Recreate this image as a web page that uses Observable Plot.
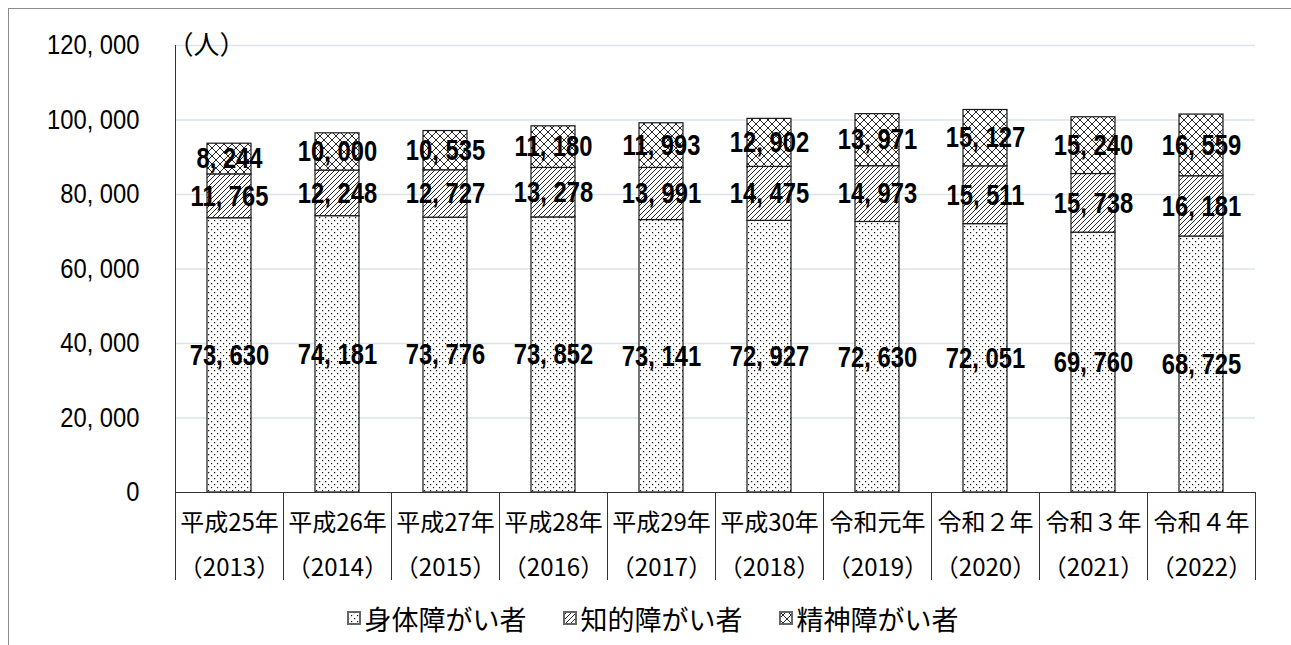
<!DOCTYPE html>
<html><head><meta charset="utf-8">
<script src="https://cdn.jsdelivr.net/npm/d3@7"></script>
<script src="https://cdn.jsdelivr.net/npm/@observablehq/plot@0.6"></script>
<style>
body{margin:0;background:#fff;width:1291px;height:645px;overflow:hidden;position:relative;font-family:"Noto Sans CJK JP",sans-serif;}
#frame{position:absolute;left:8px;top:8px;right:0;bottom:0;border-top:1px solid #8c8c8c;border-left:1px solid #8c8c8c;pointer-events:none;}
#chart svg{display:block}
#legend{position:absolute;left:0;top:590px;width:1291px;height:56px;display:flex;justify-content:center;align-items:center;gap:36px;font-size:27px;line-height:1;color:#000;padding-left:14px;box-sizing:border-box}
.item{display:flex;align-items:center;gap:4px}
.item svg{display:block}
</style></head><body>
<div id="chart"></div><div id="legend"></div><div id="frame"></div>
<script>
const categories = ["平成25年","平成26年","平成27年","平成28年","平成29年","平成30年","令和元年","令和２年","令和３年","令和４年"];
const years = ["（2013）","（2014）","（2015）","（2016）","（2017）","（2018）","（2019）","（2020）","（2021）","（2022）"];
const series = ["身体障がい者","知的障がい者","精神障がい者"];
const physical = [73630, 74181, 73776, 73852, 73141, 72927, 72630, 72051, 69760, 68725];
const intellectual = [11765, 12248, 12727, 13278, 13991, 14475, 14973, 15511, 15738, 16181];
const mental = [8244, 10000, 10535, 11180, 11993, 12902, 13971, 15127, 15240, 16559];
const yTicks = [0, 20000, 40000, 60000, 80000, 100000, 120000];
const yUnit = "（人）";
const patternIds = ["pDots", "pHatch", "pCross"];

const rows = [];
categories.forEach((c, i) => {
  [physical, intellectual, mental].forEach((arr, k) => rows.push({cat: c, series: series[k], value: arr[i]}));
});

const fmt = v => d3.format(",")(v).replace(",", ", ");
const numFont = `"Liberation Sans",Arial,sans-serif`;
const jpFont = `"Noto Sans CJK JP",sans-serif`;

const W = 1291, H = 590, ML = 175, MR = 36, MT = 45, MB = 98;
const step = (W - ML - MR) / categories.length;

const svg = Plot.plot({
  width: W, height: H, marginLeft: ML, marginRight: MR, marginTop: MT, marginBottom: MB,
  style: {fontFamily: jpFont, background: "transparent", overflow: "visible"},
  x: {domain: categories, paddingInner: 0.59, paddingOuter: 0.295, axis: null},
  y: {domain: [0, 120000], axis: null},
  color: {domain: series, range: patternIds.map(id => `url(#${id})`)},
  marks: [
    Plot.gridY(yTicks.filter(d => d > 0), {stroke: "#dde3ec", strokeOpacity: 1, strokeWidth: 1.5}),
    Plot.axisY({ticks: yTicks, label: null, tickSize: 0, tickPadding: 36, tickFormat: fmt, fontSize: 27, fontFamily: numFont, fill: "#000"}),
    Plot.barY(rows, {x: "cat", y: "value", fill: "series", stroke: "#1a1a1a", strokeWidth: 1.2}),
    Plot.text(rows, Plot.stackY({x: "cat", y: "value", z: "series", text: d => fmt(d.value), fontSize: 29, fontWeight: "bold", fontFamily: numFont, fill: "#000"})),
    Plot.frame({anchor: "left", stroke: "#333"}),
    Plot.ruleY([0], {stroke: "#333"}),
    Plot.ruleX(categories, {x: d => d, dx: -step / 2, insetTop: H - MT - MB, insetBottom: -88, stroke: "#333"}),
    Plot.ruleX(categories.slice(-1), {x: d => d, dx: step / 2, insetTop: H - MT - MB, insetBottom: -88, stroke: "#333"}),
    Plot.text(categories, {x: d => d, text: d => d, frameAnchor: "bottom", dy: 31, lineAnchor: "middle", fontSize: 24, fill: "#000"}),
    Plot.text(years, {x: (d, i) => categories[i], text: d => d, frameAnchor: "bottom", dy: 76, lineAnchor: "middle", fontSize: 24, fill: "#000"}),
    Plot.text([yUnit], {frameAnchor: "top-left", textAnchor: "start", lineAnchor: "middle", dx: -8, fontSize: 26, fill: "#000"})
  ]
});

const defsMarkup = `
<pattern id="pDots" patternUnits="userSpaceOnUse" width="6" height="6">
  <rect width="6" height="6" fill="#fff"/>
  <rect x="1" y="1" width="1.2" height="1.2" fill="#111"/>
  <rect x="4" y="4" width="1.2" height="1.2" fill="#111"/>
</pattern>
<pattern id="pHatch" patternUnits="userSpaceOnUse" width="5" height="5">
  <rect width="5" height="5" fill="#fff"/>
  <path d="M-1,1 L1,-1 M0,5 L5,0 M4,6 L6,4" stroke="#111" stroke-width="0.9"/>
</pattern>
<pattern id="pCross" patternUnits="userSpaceOnUse" width="8" height="8">
  <rect width="8" height="8" fill="#fff"/>
  <path d="M0,0 L8,8 M8,0 L0,8" stroke="#111" stroke-width="0.9"/>
</pattern>`;
const defs = d3.select(svg).insert("defs", ":first-child");
defs.html(defsMarkup);

document.getElementById("chart").appendChild(svg);

// condense the numeric labels (narrow-font look)
function condense(nodes, k) {
  nodes.each(function () {
    const w = this.getComputedTextLength();
    if (w > 0) {
      this.setAttribute("textLength", (w * k).toFixed(1));
      this.setAttribute("lengthAdjust", "spacingAndGlyphs");
    }
  });
}
condense(d3.select(svg).selectAll('g[font-weight="bold"] text'), 0.82);
condense(d3.select(svg).selectAll('g[aria-label="y-axis tick label"] text'), 0.88);

const legend = d3.select("#legend");
series.forEach((s, k) => {
  const item = legend.append("div").attr("class", "item");
  const sw = item.append("svg").attr("width", 14).attr("height", 14);
  sw.append("rect").attr("x", 1).attr("y", 1).attr("width", 12).attr("height", 12)
    .attr("fill", `url(#${patternIds[k]})`).attr("stroke", "#666").attr("stroke-width", 2);
  item.append("span").text(s);
});
</script>
</body></html>
